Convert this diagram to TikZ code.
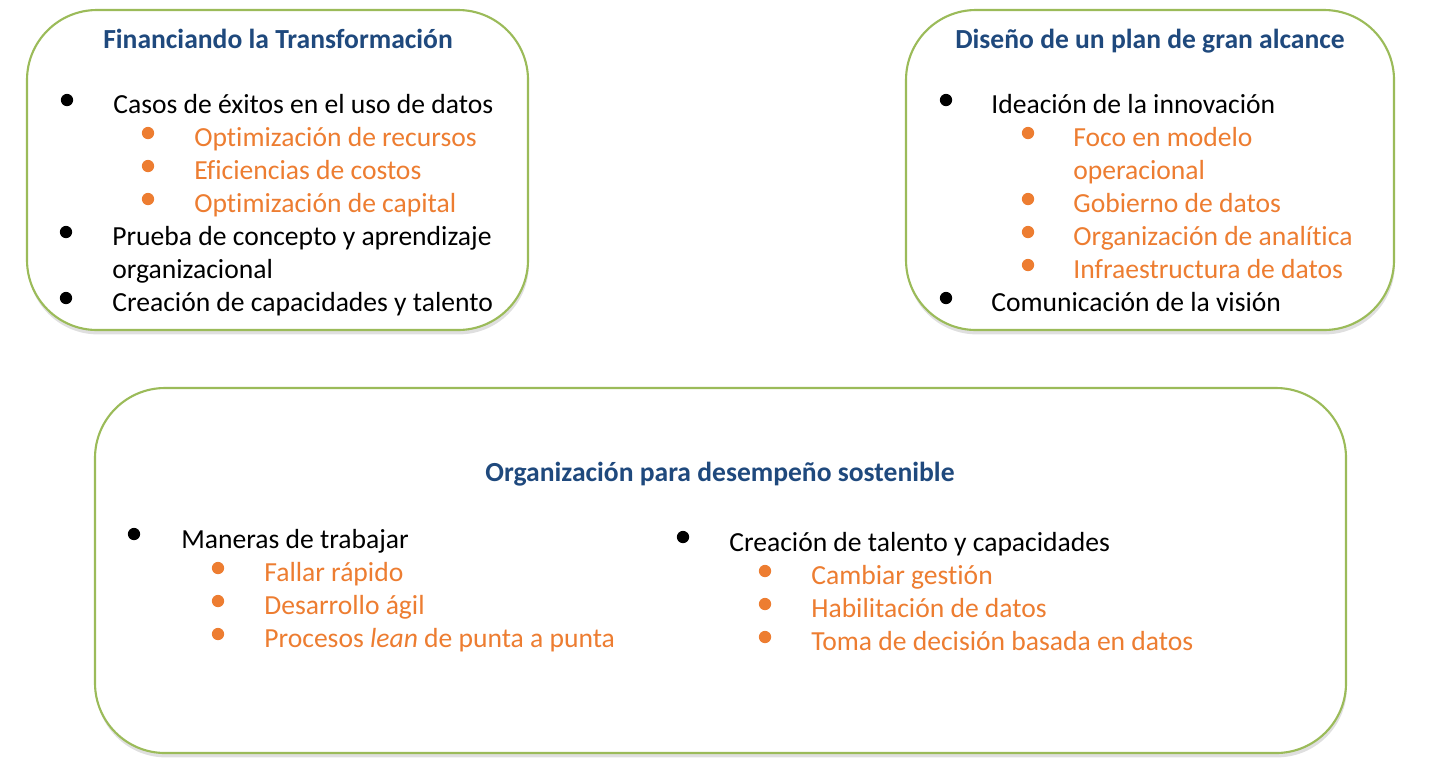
\documentclass[tikz,border=0pt]{standalone}
\usepackage{fontspec}
\setmainfont[Ligatures=NoCommon]{Carlito}
\usetikzlibrary{shadows}
\definecolor{titleblue}{HTML}{1F497D}
\definecolor{itemorange}{HTML}{ED7D31}
\definecolor{boxgreen}{HTML}{9BBB59}
\begin{document}
\begin{tikzpicture}[
	x=0.02cm, y=-0.02cm,
	% Define the styles for boxes, titles and list entries
	panel/.style={draw=boxgreen, line width=1.2pt, fill=white, rounded corners=1.4cm,
		drop shadow={opacity=0.25, shadow xshift=0.5pt, shadow yshift=-2.5pt}},
	heading/.style={anchor=base, inner sep=0, font=\fontsize{15.7}{18}\selectfont\bfseries, text=titleblue},
	entry/.style={anchor=base west, inner sep=0, font=\fontsize{15.7}{18}\selectfont, text=black},
	subentry/.style={entry, text=itemorange},
	dot/.style={circle, fill=black, inner sep=0, minimum size=7pt},
	subdot/.style={dot, fill=itemorange}
	]
	\useasboundingbox (0,0) rectangle (1435,772);
	
	% --- PANELS ---
	\draw[panel] (27,10) rectangle (528,330);
	\draw[panel] (906,10) rectangle (1394,330);
	\draw[panel] (95,388) rectangle (1346,753);
	
	% --- FINANCIANDO ---
	\node[heading] (t1) at (278,48) {Financiando la Transformación};
	\node[dot] (d11) at (67,100) {};
	\node[entry] (e11) at (113,113) {Casos de éxitos en el uso de datos};
	\node[subdot] (d12) at (148,133) {};
	\node[subentry] (e12) at (194,146) {Optimización de recursos};
	\node[subdot] (d13) at (148,166) {};
	\node[subentry] (e13) at (194,179) {Eficiencias de costos};
	\node[subdot] (d14) at (148,199) {};
	\node[subentry] (e14) at (194,212) {Optimización de capital};
	\node[dot] (d15) at (66,232) {};
	\node[entry] (e15) at (112,245) {Prueba de concepto y aprendizaje};
	\node[entry] (e16) at (112,278) {organizacional};
	\node[dot] (d17) at (66,298) {};
	\node[entry] (e17) at (112,311) {Creación de capacidades y talento};
	
	% --- DISEÑO ---
	\node[heading] (t2) at (1150,48) {Diseño de un plan de gran alcance};
	\node[dot] (d21) at (946,100) {};
	\node[entry] (e21) at (991,113) {Ideación de la innovación};
	\node[subdot] (d22) at (1028,133) {};
	\node[subentry] (e22) at (1073,146) {Foco en modelo};
	\node[subentry] (e23) at (1073,179) {operacional};
	\node[subdot] (d24) at (1028,199) {};
	\node[subentry] (e24) at (1073,212) {Gobierno de datos};
	\node[subdot] (d25) at (1028,232) {};
	\node[subentry] (e25) at (1073,245) {Organización de analítica};
	\node[subdot] (d26) at (1028,265) {};
	\node[subentry] (e26) at (1073,278) {Infraestructura de datos};
	\node[dot] (d27) at (946,298) {};
	\node[entry] (e27) at (991,311) {Comunicación de la visión};
	
	% --- ORGANIZACIÓN ---
	\node[heading] (t3) at (720,481) {Organización para desempeño sostenible};
	\node[dot] (d31) at (134,534) {};
	\node[entry] (e31) at (181,548) {Maneras de trabajar};
	\node[subdot] (d32) at (218,568) {};
	\node[subentry] (e32) at (264,581) {Fallar rápido};
	\node[subdot] (d33) at (218,601) {};
	\node[subentry] (e33) at (264,614) {Desarrollo ágil};
	\node[subdot] (d34) at (218,634) {};
	\node[subentry] (e34) at (264,647) {Procesos \textit{lean} de punta a punta};
	\node[dot] (d41) at (683,537) {};
	\node[entry] (e41) at (729,551) {Creación de talento y capacidades};
	\node[subdot] (d42) at (765,571) {};
	\node[subentry] (e42) at (811,584) {Cambiar gestión};
	\node[subdot] (d43) at (765,604) {};
	\node[subentry] (e43) at (811,617) {Habilitación de datos};
	\node[subdot] (d44) at (765,637) {};
	\node[subentry] (e44) at (811,650) {Toma de decisión basada en datos};
	
\end{tikzpicture}
\end{document}
